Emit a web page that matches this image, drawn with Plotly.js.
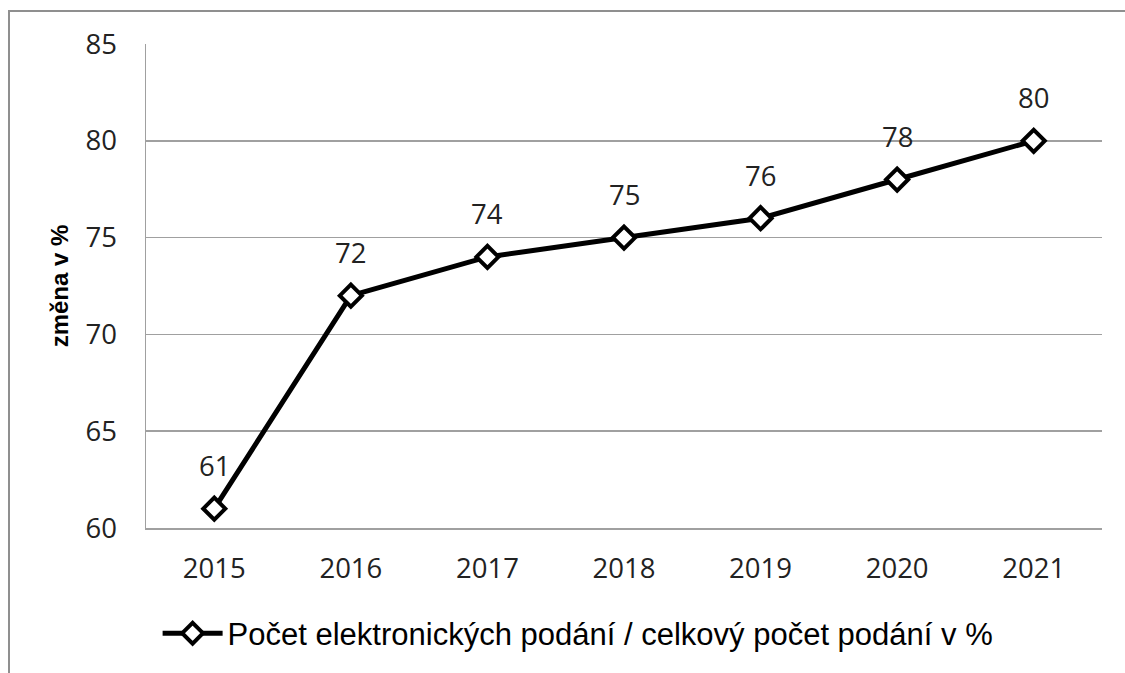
<!DOCTYPE html>
<html>
<head>
<meta charset="utf-8">
<script src="https://cdn.plot.ly/plotly-3.0.1.min.js"></script>
<style>
  html, body { margin: 0; padding: 0; background: #fff; }
  #wrap { position: relative; width: 1125px; height: 673px; overflow: hidden; }
  #chart { position: absolute; left: 0; top: 0; width: 1125px; height: 673px; }
  #frame { position: absolute; left: 8px; top: 10px; width: 1130px; height: 680px;
           border-left: 2px solid #8f8f8f; border-top: 2px solid #8f8f8f; pointer-events: none; }
</style>
</head>
<body>
<div id="wrap">
  <div id="chart"></div>
  <div id="frame"></div>
</div>
<script>
const years = ['2015', '2016', '2017', '2018', '2019', '2020', '2021'];
const values = [61, 72, 74, 75, 76, 78, 80];
const seriesName = 'Počet elektronických podání / celkový počet podání v %';
const yTitle = 'změna v %';
const yTicks = [60, 65, 70, 75, 80, 85];

const tickFont = { family: 'Open Sans, sans-serif', size: 27.5, color: '#222' };

const trace = {
  type: 'scatter',
  mode: 'lines+markers',
  x: years,
  y: values,
  name: seriesName,
  line: { color: '#000', width: 5 },
  marker: { symbol: 'diamond', size: 17, color: '#fff', line: { color: '#000', width: 4 } },
  showlegend: true,
  cliponaxis: false
};

// annotations on a category axis use the category index
const annotations = years.map((yr, i) => ({
  x: i, y: values[i], xref: 'x', yref: 'y',
  text: String(values[i]), showarrow: false,
  yshift: 43, font: tickFont
}));

const layout = {
  width: 1125, height: 673,
  paper_bgcolor: '#fff', plot_bgcolor: '#fff',
  margin: { l: 146, r: 23, t: 44, b: 143 },
  xaxis: {
    type: 'category', range: [-0.5, 6.5],
    showgrid: false, showline: true, linecolor: '#a0a0a0', linewidth: 1.5,
    ticks: '', tickfont: tickFont, ticklabelstandoff: 15, zeroline: false
  },
  yaxis: {
    range: [60, 85], tickvals: yTicks, ticktext: yTicks.map(String),
    showgrid: true, gridcolor: '#a0a0a0', gridwidth: 1.5,
    showline: true, linecolor: '#a0a0a0', linewidth: 1.5,
    ticks: '', tickfont: tickFont, ticklabelstandoff: 22, zeroline: false,
    title: { text: yTitle, font: { family: 'Liberation Sans, Arial, sans-serif', size: 24, color: '#000', weight: 'bold' }, standoff: 10 }
  },
  legend: {
    orientation: 'h', x: 0.452, xanchor: 'center', y: -0.218, yanchor: 'middle',
    font: { family: 'Liberation Sans, Arial, sans-serif', size: 31, color: '#000' },
    itemwidth: 60, bgcolor: 'rgba(0,0,0,0)'
  },
  annotations: annotations
};

Plotly.newPlot('chart', [trace], layout, { displayModeBar: false, staticPlot: true });
</script>
</body>
</html>
